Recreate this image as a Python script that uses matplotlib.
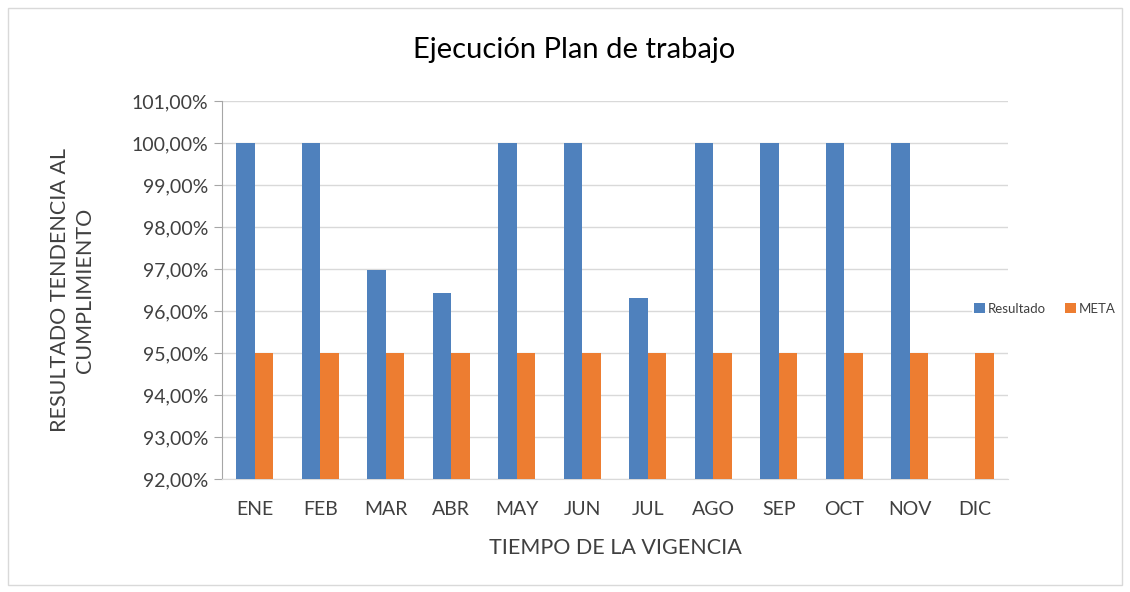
import matplotlib.pyplot as plt
import numpy as np
from matplotlib.patches import Rectangle
from matplotlib.ticker import FuncFormatter

months = ["ENE", "FEB", "MAR", "ABR", "MAY", "JUN", "JUL", "AGO", "SEP", "OCT", "NOV", "DIC"]
resultado = [100.0, 100.0, 96.98, 96.43, 100.0, 100.0, 96.30, 100.0, 100.0, 100.0, 100.0, np.nan]
meta = [95.0] * 12

BLUE = "#4F81BD"
ORANGE = "#ED7D31"
TEXT = "#404040"

plt.rcParams["font.family"] = ["Lato", "DejaVu Sans"]

fig = plt.figure(figsize=(11.3, 5.92), dpi=100)
fig.patches.append(Rectangle((0.007, 0.012), 0.986, 0.975, transform=fig.transFigure,
                             fill=False, edgecolor="#D9D9D9", linewidth=1))
ax = fig.add_axes([0.1965, 0.1909, 0.6955, 0.6385])

x = np.arange(len(months))
w = 0.285
res_vals = [v if not np.isnan(v) else 0 for v in resultado]
ax.bar(x - w / 2, res_vals, w, color=BLUE, label="Resultado", zorder=3)
ax.bar(x + w / 2, meta, w, color=ORANGE, label="META", zorder=3)

ax.set_xlim(-0.5, len(months) - 0.5)
ax.set_ylim(92, 101)
ax.set_yticks(np.arange(92, 102, 1))
ax.yaxis.set_major_formatter(FuncFormatter(lambda v, _: f"{v:.2f}%".replace(".", ",")))
ax.set_xticks(x)
ax.set_xticklabels(months)
ax.grid(axis="y", color="#D9D9D9", linewidth=1, zorder=0)

for s in ["top", "right"]:
    ax.spines[s].set_visible(False)
ax.spines["left"].set_color("#A6A6A6")
ax.spines["bottom"].set_color("#D9D9D9")
ax.tick_params(axis="y", length=6, color="#A6A6A6", labelsize=14, labelcolor=TEXT, pad=4)
ax.tick_params(axis="x", length=0, labelsize=14, labelcolor=TEXT, pad=16)

fig.text(574 / 1130, 1 - 50 / 592, "Ejecución Plan de trabajo", fontsize=21,
         color="#000000", ha="center", va="center")
ax.set_xlabel("TIEMPO DE LA VIGENCIA", fontsize=15.5, color=TEXT, labelpad=14)
ax.set_ylabel("RESULTADO TENDENCIA AL\nCUMPLIMIENTO", fontsize=15.5, color=TEXT,
              labelpad=26, linespacing=1.3)

leg = fig.legend(loc="center left", bbox_to_anchor=(0.854, 0.478), ncol=2, frameon=True,
                 fontsize=9.5, handlelength=0.8, handleheight=0.8, columnspacing=1.5,
                 handletextpad=0.2, borderpad=0.2)
leg.get_frame().set_edgecolor("none")
for t in leg.get_texts():
    t.set_color(TEXT)

fig.savefig("out.png", dpi=100)
